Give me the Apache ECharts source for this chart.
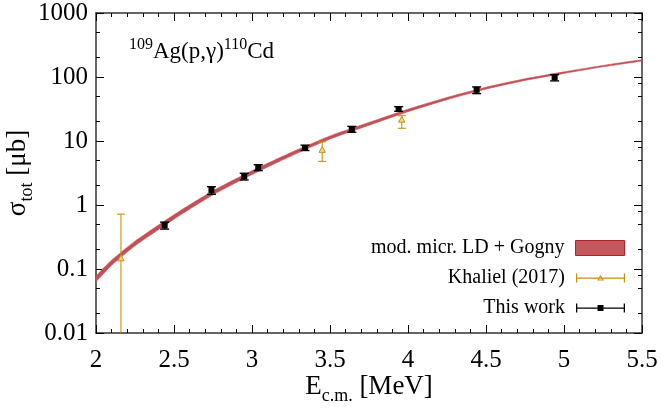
<!DOCTYPE html>
<html>
<head>
<meta charset="utf-8">
<script src="https://cdn.jsdelivr.net/npm/echarts@6/dist/echarts.min.js"></script>
<style>
  html, body { margin: 0; padding: 0; background: #fff; }
  #chart { width: 663px; height: 410px; }
</style>
</head>
<body>
<div id="chart"></div>
<script>
// model band: mod. micr. LD + Gogny (lower / upper edge)
const modelE  = [2.0, 2.1, 2.25, 2.5, 2.75, 3.0, 3.25, 3.5, 3.75, 4.0, 4.25, 4.5, 4.75, 5.0, 5.25, 5.5];
const modelLo = [0.064, 0.114, 0.230, 0.600, 1.44, 2.99, 5.82, 10.7, 17.6, 28.7, 44.2, 64.7, 88.3, 113.8, 144.4, 177.9];
const modelHi = [0.077, 0.137, 0.272, 0.705, 1.67, 3.43, 6.60, 12.0, 19.5, 31.4, 47.9, 69.3, 93.8, 120.3, 151.7, 186.2];

// This work
const thisWorkE     = [2.44, 2.74, 2.95, 3.04, 3.34, 3.64, 3.94, 4.44, 4.94];
const thisWorkSigma = [0.48, 1.72, 2.8, 3.9, 7.8, 15.2, 31.6, 63, 99];
const thisWorkLo    = [0.42, 1.47, 2.46, 3.44, 7.1, 13.7, 29.1, 55, 87];
const thisWorkHi    = [0.54, 1.93, 3.13, 4.26, 8.6, 16.9, 34.4, 70, 109];

// Khaliel (2017)
const khalielE     = [2.16, 3.45, 3.96];
const khalielSigma = [0.145, 7.2, 21.3];
const khalielLo    = [0.01, 4.8, 15.8];
const khalielHi    = [0.72, 9.7, 24.8];

// tick values
const yMinorLeft  = [0.02, 0.05, 0.2, 0.5, 2, 5, 20, 50, 200, 500];
const yMinorRight = [0.02, 0.05, 0.08, 0.2, 0.5, 0.8, 2, 5, 8, 20, 50, 80, 200, 500, 800];

const FONT = 'Liberation Serif';
const AXIS_COLOR = '#333';
const BAND_COLOR = '#c25157';
const KH_COLOR = '#c8900a';

const chart = echarts.init(document.getElementById('chart'));

function bandRender(params, api) {
    if (params.dataIndex !== 0) return;
    const pts = [];
    for (let i = 0; i < modelE.length; i++) pts.push(api.coord([modelE[i], modelLo[i]]));
    for (let i = modelE.length - 1; i >= 0; i--) pts.push(api.coord([modelE[i], modelHi[i]]));
    return {
        type: 'polygon',
        shape: { points: pts, smooth: 0.2 },
        style: { fill: BAND_COLOR, stroke: BAND_COLOR, lineWidth: 0.6 }
    };
}

function errRender(kind) {
    return function (params, api) {
        const x = api.value(0);
        const c = api.coord([x, api.value(1)]);
        const lo = api.coord([x, api.value(2)]);
        const hi = api.coord([x, api.value(3)]);
        const bottom = params.coordSys.y + params.coordSys.height;
        const clipped = lo[1] >= bottom - 0.5;
        lo[1] = Math.min(lo[1], bottom);
        const color = kind === 'this' ? '#000' : KH_COLOR;
        const lw = kind === 'this' ? 1.4 : 1.1;
        const cap = kind === 'this' ? 4.5 : 4;
        const children = [
            { type: 'line', shape: { x1: c[0], y1: lo[1], x2: c[0], y2: hi[1] }, style: { stroke: color, lineWidth: lw } },
            { type: 'line', shape: { x1: c[0] - cap, y1: hi[1], x2: c[0] + cap, y2: hi[1] }, style: { stroke: color, lineWidth: lw } }
        ];
        if (!clipped) {
            children.push({ type: 'line', shape: { x1: c[0] - cap, y1: lo[1], x2: c[0] + cap, y2: lo[1] }, style: { stroke: color, lineWidth: lw } });
        }
        if (kind === 'this') {
            children.push({ type: 'rect', shape: { x: c[0] - 3, y: c[1] - 3, width: 6, height: 6 }, style: { fill: '#000' } });
        } else {
            children.push({
                type: 'polygon',
                shape: { points: [[c[0], c[1] - 3.5], [c[0] - 3.2, c[1] + 2.2], [c[0] + 3.2, c[1] + 2.2]] },
                style: { fill: '#efd592', stroke: KH_COLOR, lineWidth: 1 }
            });
        }
        return { type: 'group', children: children };
    };
}

const thisWorkData = thisWorkE.map((e, i) => [e, thisWorkSigma[i], thisWorkLo[i], thisWorkHi[i]]);
const khalielData = khalielE.map((e, i) => [e, khalielSigma[i], khalielLo[i], khalielHi[i]]);
const modelData = modelE.map((e, i) => [e, modelLo[i], modelHi[i]]);

// legend icons (error bar with marker)
const iconKh = 'path://M0,0h1.2v9h-1.2z M47.8,0h1.2v9h-1.2z M0,4h49v1.2h-49z M21,7L24.5,1.5L28,7z M22.7,6.1L26.3,6.1L24.5,3.3z';
const iconTw = 'path://M0,0h1.3v9h-1.3z M47.7,0h1.3v9h-1.3z M0,3.9h49v1.3h-49z M21.5,1.5h6v6h-6z';

const legendText = { color: '#000', fontFamily: FONT, fontSize: 20, padding: [0, 6, 0, 0] };

const xBase = {
    type: 'value', min: 2, max: 5.5, interval: 0.5,
    axisLine: { show: true, onZero: false, lineStyle: { color: AXIS_COLOR, width: 1.5 } },
    axisTick: { show: true, inside: true, length: 8, lineStyle: { color: '#000', width: 1 } },
    minorTick: { show: true, splitNumber: 5, length: 4, lineStyle: { color: '#000', width: 1 } },
    splitLine: { show: false }
};

const yBase = {
    type: 'log', logBase: 10, min: 0.01, max: 1000,
    axisLine: { show: true, onZero: false, lineStyle: { color: AXIS_COLOR, width: 1.5 } },
    axisTick: { show: true, inside: true, length: 8, lineStyle: { color: '#000', width: 1 } },
    splitLine: { show: false }
};

const yMinor = (pos, vals) => ({
    type: 'log', logBase: 10, min: 0.01, max: 1000, position: pos,
    axisLine: { show: false },
    axisLabel: { show: false },
    axisTick: { show: true, inside: true, length: 4, customValues: vals, lineStyle: { color: '#000', width: 1 } },
    splitLine: { show: false }
});

const option = {
    animation: false,
    backgroundColor: '#fff',
    textStyle: { fontFamily: FONT },
    grid: { left: 96, right: 21, top: 13, bottom: 77, containLabel: false, outerBoundsMode: 'none' },
    title: {
        text: '{sup|109}{m|Ag(p,γ)}{sup|110}{m|Cd}',
        left: 129, top: 37, padding: 0,
        textStyle: {
            fontWeight: 'normal',
            rich: {
                m: { fontFamily: FONT, fontSize: 23, fontWeight: 'normal', color: '#000', lineHeight: 26, verticalAlign: 'bottom' },
                sup: { fontFamily: FONT, fontSize: 16, fontWeight: 'normal', color: '#000', lineHeight: 26, verticalAlign: 'top' }
            }
        }
    },
    legend: [
        {
            right: 38, top: 238, padding: 0, align: 'right', selectedMode: false,
            itemWidth: 49, itemHeight: 15, textStyle: legendText,
            data: [{ name: 'mod. micr. LD + Gogny', icon: 'rect', itemStyle: { color: '#c4575c', borderColor: '#b3202c', borderWidth: 1 } }]
        },
        {
            right: 38, top: 268, padding: 0, align: 'right', selectedMode: false,
            itemWidth: 49, itemHeight: 9, textStyle: legendText,
            data: [{ name: 'Khaliel (2017)', icon: iconKh, itemStyle: { color: KH_COLOR, borderWidth: 0 } }]
        },
        {
            right: 38, top: 298, padding: 0, align: 'right', selectedMode: false,
            itemWidth: 49, itemHeight: 9, textStyle: legendText,
            data: [{ name: 'This work', icon: iconTw, itemStyle: { color: '#000', borderWidth: 0 } }]
        }
    ],
    xAxis: [
        Object.assign({}, xBase, {
            position: 'bottom',
            name: '{m|E}{s|c.m.}{m| [MeV]}',
            nameLocation: 'middle', nameGap: 40, nameMoveOverlap: false,
            nameTextStyle: {
                rich: {
                    m: { fontFamily: FONT, fontSize: 27, color: '#000', lineHeight: 32, verticalAlign: 'top' },
                    s: { fontFamily: FONT, fontSize: 18, color: '#000', lineHeight: 32, verticalAlign: 'bottom' }
                }
            },
            axisLabel: { show: true, margin: 15, color: '#000', fontFamily: FONT, fontSize: 25 }
        }),
        Object.assign({}, xBase, { position: 'top', axisLabel: { show: false } })
    ],
    yAxis: [
        Object.assign({}, yBase, {
            position: 'left',
            name: '{m|σ}{s|tot}{m| [μb]}',
            nameLocation: 'middle', nameGap: 60, nameRotate: 90, nameMoveOverlap: false,
            nameTextStyle: {
                rich: {
                    m: { fontFamily: FONT, fontSize: 27, color: '#000', lineHeight: 32, verticalAlign: 'top' },
                    s: { fontFamily: FONT, fontSize: 18, color: '#000', lineHeight: 32, verticalAlign: 'bottom' }
                }
            },
            axisLabel: { show: true, margin: 8, color: '#000', fontFamily: FONT, fontSize: 25, formatter: v => String(v) }
        }),
        yMinor('left', yMinorLeft),
        Object.assign({}, yBase, { position: 'right', axisLabel: { show: false } }),
        yMinor('right', yMinorRight)
    ],
    series: [
        {
            name: 'mod. micr. LD + Gogny', type: 'custom', xAxisIndex: 0, yAxisIndex: 0,
            itemStyle: { color: BAND_COLOR },
            renderItem: bandRender, encode: { x: 0, y: [1, 2] }, data: modelData, z: 2
        },
        {
            name: 'Khaliel (2017)', type: 'custom', xAxisIndex: 0, yAxisIndex: 0,
            itemStyle: { color: KH_COLOR },
            renderItem: errRender('kh'), encode: { x: 0, y: [1, 2, 3] }, data: khalielData, z: 3
        },
        {
            name: 'This work', type: 'custom', xAxisIndex: 0, yAxisIndex: 0,
            itemStyle: { color: '#000' },
            renderItem: errRender('this'), encode: { x: 0, y: [1, 2, 3] }, data: thisWorkData, z: 4
        }
    ]
};

chart.setOption(option);
</script>
</body>
</html>
